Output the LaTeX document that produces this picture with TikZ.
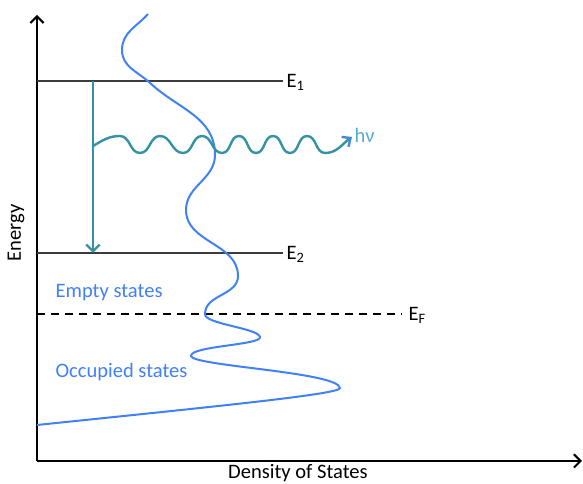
\documentclass[tikz,border=0pt]{standalone}
\usepackage{fontspec}
\setmainfont{Carlito}
\usetikzlibrary{arrows.meta}
\definecolor{dosblue}{RGB}{64,128,248}
\definecolor{wavecol}{RGB}{52,146,162}
\definecolor{hvcol}{RGB}{84,172,204}
\definecolor{lvlgray}{RGB}{60,60,60}

\begin{document}
\begin{tikzpicture}[
  x=0.75pt, y=0.75pt,
  font=\fontsize{15.4}{18}\selectfont,
  >={Straight Barb[length=5pt,width=10pt]},
  axis/.style={black, line width=1.5pt, ->},
  level/.style={lvlgray, line width=0.8pt},
  fermi/.style={black, line width=1.5pt, dash pattern=on 6pt off 4.5pt},
  dos/.style={dosblue, line width=1.5pt},
  photon/.style={wavecol, line width=1.8pt},
  lbl/.style={anchor=west, inner sep=1pt}
]
\useasboundingbox (0,0) rectangle (583,484);

% axes
\coordinate (O) at (37,23);
\coordinate (ytop) at (37,469);
\coordinate (xend) at (582,23);
\draw[axis] (O) -- (ytop);
\draw[axis] (O) -- (xend);
\node[anchor=base] (xlab) at (298,5.5) {Density of States};
\node[rotate=90] (ylab) at (16,251) {Energy};

% levels
\coordinate (e1a) at (37,403);
\coordinate (e1b) at (283,403);
\coordinate (e2a) at (37,231);
\coordinate (e2b) at (283,231);
\coordinate (efa) at (37,170);
\coordinate (efb) at (402,170);
\draw[level] (e1a) -- (e1b);
\draw[level] (e2a) -- (e2b);
\draw[fermi] (efa) -- (efb);
\node[lbl, anchor=north west] (e1lab) at (285,411) {E\textsubscript{1}};
\node[lbl, anchor=north west] (e2lab) at (285,239) {E\textsubscript{2}};
\node[lbl, anchor=north west] (eflab) at (407,178) {E\textsubscript{F}};

\node[lbl, dosblue] (empty) at (54,191) {Empty states};
\node[lbl, dosblue] (occ) at (54,112) {Occupied states};

% density of states
\draw[dos] (148,470) to[out=228,in=90] (122,434)
  to[out=-90,in=137] (150,401)
  to[out=-43,in=90] (215,329)
  to[out=-90,in=90] (186,274)
  to[out=-90,in=90] (238,208)
  to[out=-90,in=90] (205,170)
  .. controls (204,160) and (258,156) .. (260,147)
  .. controls (262,139) and (190,138) .. (191,128)
  .. controls (192,118) and (338,112) .. (340,96)
  .. controls (341,90) and (220,78) .. (37,59);

% transition and emitted photon
\coordinate (top) at (93,403);
\coordinate (bot) at (93,231);
\coordinate (w0) at (93,338);
\coordinate (wend) at (352,347);
\draw[photon, ->] (top) -- (bot);
\draw[photon] (w0) to[out=30,in=180] (120,348)
  to[out=0,in=180] (140,331) to[out=0,in=180] (160,348)
  to[out=0,in=180] (183,331) to[out=0,in=180] (202,348)
  to[out=0,in=180] (222,331) to[out=0,in=180] (239,348)
  to[out=0,in=180] (256,331) to[out=0,in=180] (273,348)
  to[out=0,in=180] (290,331) to[out=0,in=180] (307,348)
  to[out=0,in=180] (325,331);
\draw[photon, -{Straight Barb[length=5pt,width=9pt,color=hvcol!80!blue]}] (325,331) to[out=0,in=215] (wend);
\node[lbl, hvcol] (hv) at (353,349) {hν};
\end{tikzpicture}
\end{document}
